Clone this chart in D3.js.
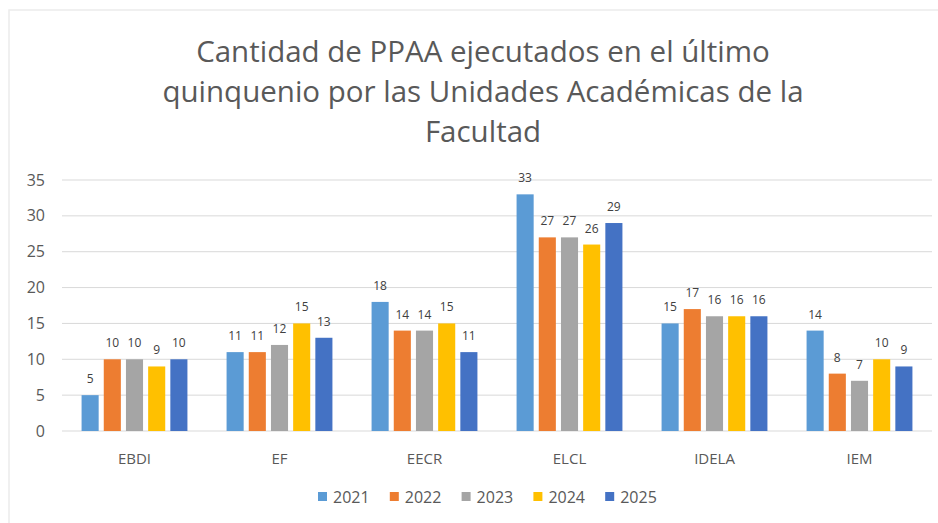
<!DOCTYPE html>
<html>
<head>
<meta charset="utf-8">
<script src="https://cdn.jsdelivr.net/npm/d3@7"></script>
<style>
  body { margin: 0; background: #fff; }
  text { font-family: "Open Sans", "Noto Sans", sans-serif; }
</style>
</head>
<body>
<script>
// Chart data
const units = ["EBDI", "EF", "EECR", "ELCL", "IDELA", "IEM"];
const years = ["2021", "2022", "2023", "2024", "2025"];
const v2021 = [5, 11, 18, 33, 15, 14];
const v2022 = [10, 11, 14, 27, 17, 8];
const v2023 = [10, 12, 14, 27, 16, 7];
const v2024 = [9, 15, 15, 26, 16, 10];
const v2025 = [10, 13, 11, 29, 16, 9];
const yTicks = [0, 5, 10, 15, 20, 25, 30, 35];
const titleLines = [
  "Cantidad de PPAA ejecutados en el último",
  "quinquenio por las Unidades Académicas de la",
  "Facultad"
];

const series = [v2021, v2022, v2023, v2024, v2025];
const colors = ["#5B9BD5", "#ED7D31", "#A5A5A5", "#FFC000", "#4472C4"];

const width = 938, height = 523;
const svg = d3.select("body").append("svg")
  .attr("width", width)
  .attr("height", height);

// faint frame of the chart area
svg.append("path")
  .attr("d", "M9,523 V10 H938")
  .attr("fill", "none")
  .attr("stroke", "#ececec")
  .attr("stroke-width", 1.5);

// title
svg.append("g").selectAll("text")
  .data(titleLines)
  .join("text")
  .attr("x", 483)
  .attr("y", (d, i) => 62 + i * 40)
  .attr("text-anchor", "middle")
  .style("font-size", "29.5px")
  .style("fill", "#595959")
  .text(d => d);

// scales
const x0 = d3.scaleBand()
  .domain(units)
  .range([62, 932])
  .paddingInner(0.27)
  .paddingOuter(0.135);

const x1 = d3.scaleBand()
  .domain(years)
  .range([0, x0.bandwidth()])
  .paddingInner(0.23);

const y = d3.scaleLinear()
  .domain([0, 35])
  .range([431, 180]);

// grid
svg.append("g").selectAll("line")
  .data(yTicks)
  .join("line")
  .attr("x1", 62).attr("x2", 932)
  .attr("y1", d => y(d)).attr("y2", d => y(d))
  .attr("stroke", "#d9d9d9")
  .attr("stroke-width", 1);

// y axis labels
const yAxis = svg.append("g")
  .attr("transform", "translate(45,0)")
  .call(d3.axisLeft(y).tickValues(yTicks).tickSize(0).tickPadding(0));
yAxis.select(".domain").remove();
yAxis.selectAll("text")
  .style("font-family", "'Open Sans', sans-serif")
  .style("font-size", "16px")
  .style("fill", "#595959");

// x axis labels
const xAxis = svg.append("g")
  .attr("transform", "translate(0,431)")
  .call(d3.axisBottom(x0).tickSize(0).tickPadding(22));
xAxis.select(".domain").remove();
xAxis.selectAll("text")
  .style("font-family", "'Open Sans', sans-serif")
  .style("font-size", "15px")
  .style("fill", "#595959");

// bars
const groups = svg.append("g").selectAll("g")
  .data(units)
  .join("g")
  .attr("transform", d => `translate(${x0(d)},0)`);

groups.selectAll("rect")
  .data((u, i) => years.map((yr, k) => ({ yr, k, v: series[k][i] })))
  .join("rect")
  .attr("x", d => x1(d.yr))
  .attr("width", x1.bandwidth())
  .attr("y", d => y(d.v))
  .attr("height", d => y(0) - y(d.v))
  .attr("fill", d => colors[d.k]);

groups.selectAll("text")
  .data((u, i) => years.map((yr, k) => ({ yr, k, v: series[k][i] })))
  .join("text")
  .attr("x", d => x1(d.yr) + x1.bandwidth() / 2)
  .attr("y", d => y(d.v) - 12)
  .attr("text-anchor", "middle")
  .style("font-size", "12px")
  .style("fill", "#404040")
  .text(d => d.v);

// legend
const legend = svg.append("g").selectAll("g")
  .data(years)
  .join("g")
  .attr("transform", (d, i) => `translate(${318 + i * 71.8},492)`);

legend.append("rect")
  .attr("width", 9).attr("height", 9)
  .attr("y", 0)
  .attr("fill", (d, i) => colors[i]);

legend.append("text")
  .attr("x", 15)
  .attr("y", 11)
  .style("font-size", "16px")
  .style("fill", "#595959")
  .text(d => d);
</script>
</body>
</html>
